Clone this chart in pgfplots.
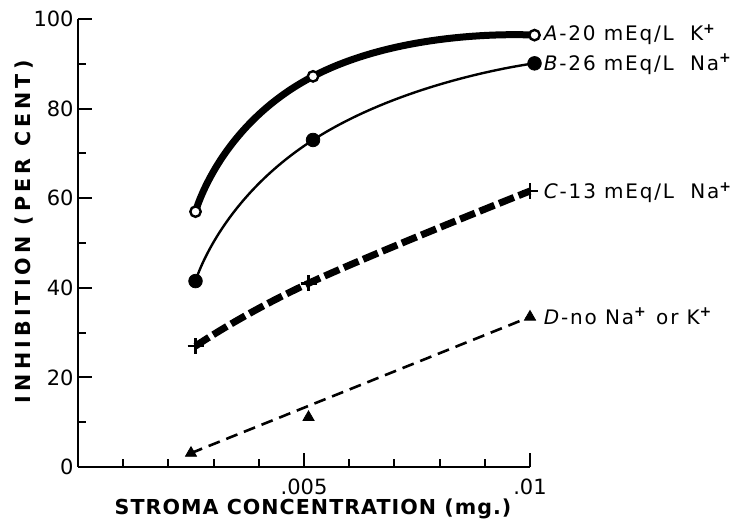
\documentclass[border=0pt]{standalone}
\usepackage{fontspec}
\setmainfont{DejaVu Sans}
\usepackage{pgfplots}
\pgfplotsset{compat=1.18}
\begin{document}
\begin{tikzpicture}
\begin{axis}[
  scale only axis, width=226pt, height=224pt,
  xmin=0, xmax=0.01, ymin=0, ymax=100,
  axis x line*=bottom, axis y line*=left,
  axis line style={line width=1.2pt, -},
  xtick={0.005,0.01}, xticklabels={.005,.01},
  minor xtick={0.001,0.002,0.003,0.004,0.006,0.007,0.008,0.009},
  ytick={0,20,40,60,80,100},
  minor ytick={10,30,50,70,90},
  tick align=inside,
  major tick length=7pt, minor tick length=4pt,
  every tick/.style={line width=1pt, black},
  /pgf/number format/assume math mode=true,
  scaled x ticks=false,
  ticklabel style={font=\fontsize{10.5}{12}\selectfont},
  yticklabel style={inner xsep=2pt},
  xticklabel style={inner ysep=6pt},
  every axis x label/.style={at={(axis description cs:0.52,-0.107)}, anchor=base},
  every axis y label/.style={at={(axis description cs:-0.106,0.525)}, anchor=base, rotate=90},
  xlabel={\fontsize{10.3}{12}\selectfont\bfseries\addfontfeatures{LetterSpace=5}STROMA CONCENTRATION (mg.)},
  ylabel={\fontsize{10.3}{12}\selectfont\bfseries\addfontfeatures{LetterSpace=20}INHIBITION (PER CENT)},
  clip=false,
]
% curves
\addplot[line width=3.5pt, smooth, tension=1] coordinates {(0.0026,57) (0.0052,87.2) (0.0101,96.4)};
\addplot[line width=1.2pt, smooth, tension=1] coordinates {(0.0026,41.5) (0.0052,73) (0.0101,90.1)};
\addplot[line width=3.5pt, dash pattern=on 8pt off 2.5pt, smooth, tension=0.7] coordinates {(0.0026,27) (0.0051,41) (0.0100,61.6)};
\addplot[line width=1.3pt, dash pattern=on 6pt off 3.5pt] coordinates {(0.0025,3.1) (0.0100,33.5)};
% marks
\addplot[only marks, mark=*, mark size=2.6pt, mark options={fill=white, draw=black, line width=1.2pt}] coordinates {(0.0026,57) (0.0052,87.2) (0.0101,96.4)};
\addplot[only marks, mark=*, mark size=3.4pt, mark options={fill=black}] coordinates {(0.0026,41.5) (0.0052,73) (0.0101,90.1)};
\addplot[only marks, mark=+, mark size=4pt, mark options={line width=1.4pt}] coordinates {(0.0026,27) (0.0051,41) (0.0100,61.6)};
\addplot[only marks, mark=triangle*, mark size=3.2pt, mark options={fill=black}] coordinates {(0.0025,3.1) (0.0051,11.1) (0.0100,33.5)};
% labels
\tikzset{lab/.style={anchor=base west, inner sep=0pt, yshift=-3.6pt, font=\fontsize{10}{12}\selectfont\addfontfeatures{LetterSpace=9}}}
\node[lab] at (axis cs:0.0103,96.8) {\textit{A}-20 mEq/L\ \ K\textsuperscript{\textbf{+}}};
\node[lab] at (axis cs:0.0103,90.2) {\textit{B}-26 mEq/L\ \ Na\textsuperscript{\textbf{+}}};
\node[lab] at (axis cs:0.0103,61.5) {\textit{C}-13 mEq/L\ \ Na\textsuperscript{\textbf{+}}};
\node[lab] at (axis cs:0.0103,33.5) {\textit{D}-no Na\textsuperscript{\textbf{+}} or K\textsuperscript{\textbf{+}}};
\end{axis}
\pgfresetboundingbox
\path[use as bounding box] (-39pt,-29pt) rectangle (333pt,233.5pt);
\end{tikzpicture}
\end{document}
